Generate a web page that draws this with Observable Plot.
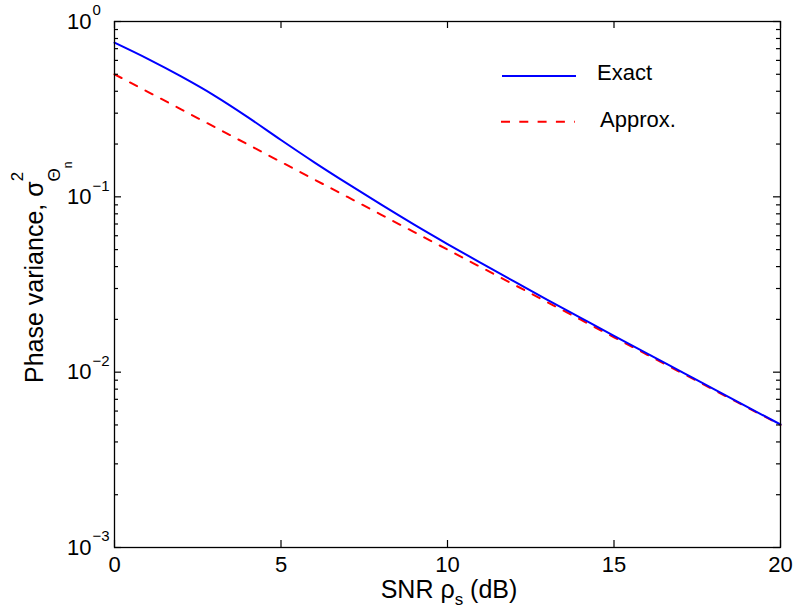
<!DOCTYPE html>
<html><head><meta charset="utf-8">
<script src="https://cdn.jsdelivr.net/npm/d3@7"></script>
<script src="https://cdn.jsdelivr.net/npm/@observablehq/plot@0.6"></script>
<style>body{margin:0;background:#fff;} svg{font-family:"Liberation Sans",Arial,sans-serif;}</style>
</head><body><div id="chart"></div>
<script>
// ---- data ----
const snrDb = [0,1,2,3,4,5,6,7,8,9,10,11,12,13,14,15,16,17,18,19,20];
const exactVar = [0.757,0.612,0.486,0.378,0.285,0.211,0.1574,0.1189,0.0905,0.0694,0.0538,0.0420,0.0329,0.02588,0.02042,0.01612,0.01275,0.01010,0.00800,0.00634,0.00503];
const approxVar = [0.5,0.3972,0.3155,0.2506,0.1991,0.1581,0.1256,0.0998,0.0792,0.0629,0.05,0.0397,0.03155,0.02506,0.01991,0.01581,0.01256,0.00998,0.00792,0.00629,0.005];
const xTicks = [0,5,10,15,20];
const yDecades = [0.001,0.01,0.1,1];
const yExponents = ["\u22123","\u22122","\u22121","0"];
const yMinor = [0.002,0.003,0.004,0.005,0.006,0.007,0.008,0.009,
                0.02,0.03,0.04,0.05,0.06,0.07,0.08,0.09,
                0.2,0.3,0.4,0.5,0.6,0.7,0.8,0.9];
const seriesNames = ["Exact","Approx."];

const rows = snrDb.map((s,i)=>({snr:s, exact:exactVar[i], approx:approxVar[i]}));
const FONT = '"Liberation Sans", Arial, sans-serif';
const W = 798, H = 613, ML = 114, MR = 18, MT = 21, MB = 66;
const FW = W - ML - MR, FH = H - MT - MB;
const MAJ = 7, MIN = 4;

const plot = Plot.plot({
  width:W, height:H,
  marginLeft:ML, marginRight:MR, marginTop:MT, marginBottom:MB,
  style:{fontFamily:FONT, fontSize:"22px", color:"#000", background:"#fff", overflow:"visible"},
  x:{domain:[0,20], axis:null},
  y:{type:"log", domain:[0.001,1], axis:null},
  marks:[
    Plot.line(rows, {x:"snr", y:"approx", stroke:"#ff0000", strokeWidth:2, strokeDasharray:"8,9.5"}),
    Plot.line(rows, {x:"snr", y:"exact", stroke:"#0000ff", strokeWidth:2, curve:"monotone-x"}),
    Plot.frame({stroke:"#000", strokeWidth:1.3}),
    // inward ticks on all four sides
    Plot.tickX(xTicks, {x:d=>d, insetTop:FH-MAJ, stroke:"#000", strokeWidth:1.2}),
    Plot.tickX(xTicks, {x:d=>d, insetBottom:FH-MAJ, stroke:"#000", strokeWidth:1.2}),
    Plot.tickY(yDecades, {y:d=>d, insetRight:FW-MAJ, stroke:"#000", strokeWidth:1.2}),
    Plot.tickY(yDecades, {y:d=>d, insetLeft:FW-MAJ, stroke:"#000", strokeWidth:1.2}),
    Plot.tickY(yMinor, {y:d=>d, insetRight:FW-MIN, stroke:"#000", strokeWidth:1.2}),
    Plot.tickY(yMinor, {y:d=>d, insetLeft:FW-MIN, stroke:"#000", strokeWidth:1.2}),
    // tick labels
    Plot.text(xTicks, {x:d=>d, frameAnchor:"bottom", text:d=>String(d), lineAnchor:"top", dy:9, fontSize:22}),
    Plot.text(yDecades, {y:d=>d, frameAnchor:"left", text:()=>"10", textAnchor:"end", dx:-23, fontSize:22}),
    Plot.text(yDecades, {y:d=>d, frameAnchor:"left", text:(d,i)=>yExponents[i], textAnchor:"start", dx:-22, dy:-11, fontSize:15})
  ]
});
document.getElementById("chart").appendChild(plot);

const svg = d3.select(plot);
const g = svg.append("g").attr("font-family", FONT).attr("fill","#000").attr("text-anchor","start");

// legend
g.append("line").attr("x1",502).attr("x2",576).attr("y1",76).attr("y2",76)
  .attr("stroke","#0000ff").attr("stroke-width",2);
g.append("text").attr("x",597).attr("y",80).attr("font-size",22).text(seriesNames[0]);
g.append("line").attr("x1",501).attr("x2",575).attr("y1",121.7).attr("y2",121.7)
  .attr("stroke","#ff0000").attr("stroke-width",2).attr("stroke-dasharray","9,9.3");
g.append("text").attr("x",600).attr("y",127.3).attr("font-size",22).text(seriesNames[1]);

// x label
const xl = g.append("text").attr("x",449).attr("y",598).attr("text-anchor","middle").attr("font-size",25);
xl.append("tspan").text("SNR \u03C1");
xl.append("tspan").attr("font-size",17).attr("dy",7).text("s");
xl.append("tspan").attr("dy",-7).text(" (dB)");

// y label
const yl = g.append("text").attr("transform","translate(43,383) rotate(-90)").attr("font-size",25).attr("text-anchor","start");
yl.append("tspan").text("Phase variance, \u03C3");
yl.append("tspan").attr("font-size",17).attr("dy",-20).text("2");
yl.append("tspan").attr("font-size",17).attr("dx",-9.5).attr("dy",37).text("\u0398");
yl.append("tspan").attr("font-size",12).attr("dy",12).text("n");
</script></body></html>
